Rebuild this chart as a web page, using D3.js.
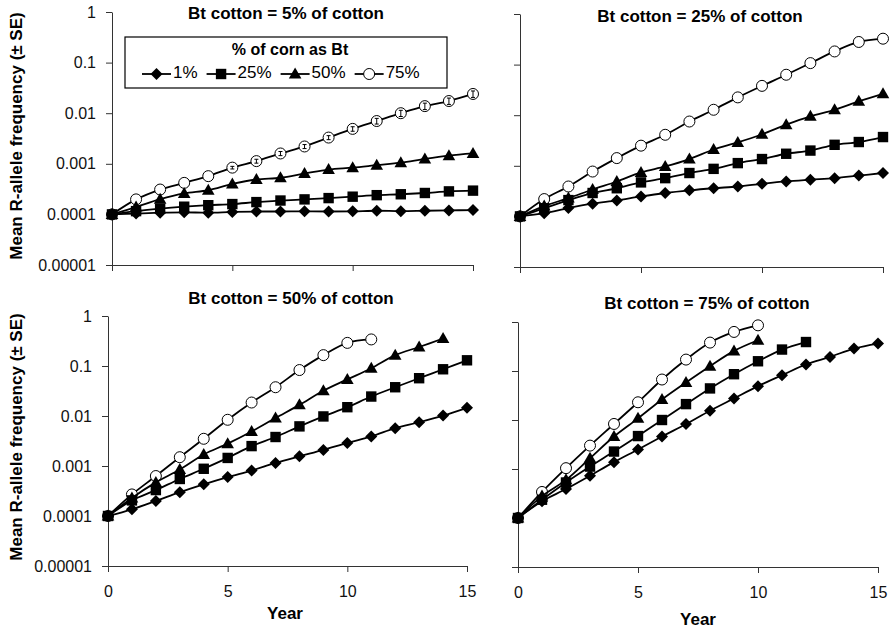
<!DOCTYPE html>
<html>
<head>
<meta charset="utf-8">
<script src="https://cdn.jsdelivr.net/npm/d3@7"></script>
<style>
  body { margin: 0; background: #fff; }
  text { font-family: "Liberation Sans", Arial, sans-serif; }
</style>
</head>
<body>
<svg></svg>
<script>
// years on the x axis
const years = [0, 1, 2, 3, 4, 5, 6, 7, 8, 9, 10, 11, 12, 13, 14, 15];
const xTickValues = [0, 5, 10, 15];
const yTickValues = [1, 0.1, 0.01, 0.001, 0.0001, 0.00001];
const yTickLabels = ["1", "0.1", "0.01", "0.001", "0.0001", "0.00001"];
const cornLevels = ["1%", "25%", "50%", "75%"];
const panelTitles = [
  "Bt cotton = 5% of cotton",
  "Bt cotton = 25% of cotton",
  "Bt cotton = 50% of cotton",
  "Bt cotton = 75% of cotton"
];

// Bt cotton = 5%
const c5_corn1  = [1.00e-4, 1.04e-4, 1.08e-4, 1.10e-4, 1.08e-4, 1.12e-4, 1.14e-4, 1.14e-4, 1.15e-4, 1.14e-4, 1.15e-4, 1.18e-4, 1.16e-4, 1.18e-4, 1.20e-4, 1.22e-4];
const c5_corn25 = [1.00e-4, 1.16e-4, 1.30e-4, 1.42e-4, 1.52e-4, 1.60e-4, 1.75e-4, 1.88e-4, 1.98e-4, 2.10e-4, 2.24e-4, 2.40e-4, 2.50e-4, 2.65e-4, 2.85e-4, 2.95e-4];
const c5_corn50 = [1.0e-4, 1.4e-4, 2.0e-4, 2.6e-4, 3.0e-4, 4.0e-4, 4.9e-4, 5.3e-4, 6.4e-4, 7.7e-4, 8.4e-4, 9.4e-4, 1.05e-3, 1.25e-3, 1.45e-3, 1.6e-3];
const c5_corn75 = [1.0e-4, 1.98e-4, 3.1e-4, 4.2e-4, 5.7e-4, 8.4e-4, 1.13e-3, 1.6e-3, 2.2e-3, 3.3e-3, 4.9e-3, 7.0e-3, 1.0e-2, 1.38e-2, 1.74e-2, 2.4e-2];
const c5_corn75_se = [0, 0, 0, 0, 0, 0.00005, 0.0001, 0.00015, 0.0002, 0.0003, 0.0005, 0.0009, 0.0014, 0.002, 0.0025, 0.0035];

// Bt cotton = 25%
const c25_corn1  = [1e-4, 1.16e-4, 1.46e-4, 1.78e-4, 2.07e-4, 2.48e-4, 2.9e-4, 3.27e-4, 3.6e-4, 3.9e-4, 4.4e-4, 4.9e-4, 5.3e-4, 5.7e-4, 6.4e-4, 7.2e-4];
const c25_corn25 = [1e-4, 1.45e-4, 2.1e-4, 2.9e-4, 3.6e-4, 4.7e-4, 5.7e-4, 7.2e-4, 8.7e-4, 1.13e-3, 1.36e-3, 1.73e-3, 2.0e-3, 2.6e-3, 2.95e-3, 3.7e-3];
const c25_corn50 = [1e-4, 1.6e-4, 2.3e-4, 3.4e-4, 4.9e-4, 7.4e-4, 9.7e-4, 1.36e-3, 2.1e-3, 2.9e-3, 4.2e-3, 6.5e-3, 9.5e-3, 1.28e-2, 1.88e-2, 2.65e-2];
const c25_corn75 = [1e-4, 2.2e-4, 3.9e-4, 7.7e-4, 1.42e-3, 2.5e-3, 4.1e-3, 7.5e-3, 1.28e-2, 2.25e-2, 3.8e-2, 6.3e-2, 0.107, 0.182, 0.28, 0.325];

// Bt cotton = 50%
const c50_corn1  = [1e-4, 1.36e-4, 2.0e-4, 3.0e-4, 4.3e-4, 6.0e-4, 8.1e-4, 1.15e-3, 1.56e-3, 2.1e-3, 2.9e-3, 3.9e-3, 5.7e-3, 7.5e-3, 1.02e-2, 1.46e-2];
const c50_corn25 = [1e-4, 2.05e-4, 3.3e-4, 5.5e-4, 8.8e-4, 1.45e-3, 2.5e-3, 3.8e-3, 6.2e-3, 9.8e-3, 1.5e-2, 2.45e-2, 3.76e-2, 5.7e-2, 8.6e-2, 0.13];
const c50_corn50 = [1e-4, 2.3e-4, 4.7e-4, 8.5e-4, 1.7e-3, 2.8e-3, 4.9e-3, 9.1e-3, 1.67e-2, 3.2e-2, 5.4e-2, 9.0e-2, 0.165, 0.24, 0.355];
const c50_corn75 = [1e-4, 2.7e-4, 6.3e-4, 1.5e-3, 3.5e-3, 8.4e-3, 1.86e-2, 3.76e-2, 8.3e-2, 0.165, 0.29, 0.34];

// Bt cotton = 75%
const c75_corn1  = [1e-4, 2.2e-4, 3.9e-4, 7.3e-4, 1.38e-3, 2.5e-3, 4.6e-3, 8.3e-3, 1.55e-2, 2.76e-2, 4.9e-2, 8.2e-2, 0.136, 0.194, 0.287, 0.363];
const c75_corn25 = [1e-4, 2.36e-4, 5.3e-4, 1.12e-3, 2.27e-3, 4.7e-3, 1.0e-2, 2.11e-2, 4.41e-2, 8.6e-2, 0.158, 0.274, 0.39];
const c75_corn50 = [1e-4, 2.8e-4, 6.0e-4, 1.66e-3, 4.6e-3, 1.08e-2, 2.63e-2, 5.83e-2, 0.125, 0.257, 0.424];
const c75_corn75 = [1e-4, 3.4e-4, 1.04e-3, 3.0e-3, 8.3e-3, 2.3e-2, 6.7e-2, 0.171, 0.38, 0.627, 0.855];

const svg = d3.select("svg").attr("width", 891).attr("height", 631);
svg.append("rect").attr("width", 891).attr("height", 631).attr("fill", "#fff");

const boldSize = 17;
const tickSize = 16;

// panel layout
const panels = [
  { title: panelTitles[0], series: [c5_corn1, c5_corn25, c5_corn50, c5_corn75], se: [null, null, null, c5_corn75_se],
    left: 112, right: 473, top: 12, bottom: 265, yLabels: true, xLabels: false, titleX: 286, titleY: 15 },
  { title: panelTitles[1], series: [c25_corn1, c25_corn25, c25_corn50, c25_corn75], se: [],
    left: 520, right: 883, top: 14, bottom: 267, yLabels: false, xLabels: false, titleX: 700, titleY: 18 },
  { title: panelTitles[2], series: [c50_corn1, c50_corn25, c50_corn50, c50_corn75], se: [],
    left: 108, right: 467, top: 316, bottom: 566, yLabels: true, xLabels: true, titleX: 291, titleY: 300 },
  { title: panelTitles[3], series: [c75_corn1, c75_corn25, c75_corn50, c75_corn75], se: [],
    left: 518, right: 878, top: 322, bottom: 567, yLabels: false, xLabels: true, titleX: 707, titleY: 305 }
];

// marker drawing: diamond, square, triangle, open circle
function drawMarker(sel, i) {
  if (i === 0) {
    sel.append("path").attr("d", "M0,-6L6,0L0,6L-6,0Z").attr("fill", "#000");
  } else if (i === 1) {
    sel.append("rect").attr("x", -5.2).attr("y", -5.2).attr("width", 10.4).attr("height", 10.4).attr("fill", "#000");
  } else if (i === 2) {
    sel.append("path").attr("d", "M0,-6.5L6.3,4.5L-6.3,4.5Z").attr("fill", "#000");
  } else {
    sel.append("circle").attr("r", 5.5).attr("fill", "#fff").attr("stroke", "#000").attr("stroke-width", 1);
  }
}

const line = d3.line().curve(d3.curveCatmullRom);

panels.forEach(p => {
  const x = d3.scaleLinear().domain([0, 15]).range([p.left, p.right]);
  const y = d3.scaleLog().domain([1e-5, 1]).range([p.bottom, p.top]);
  const g = svg.append("g");

  // y axis
  const ya = g.append("g")
    .attr("transform", `translate(${p.left},0)`)
    .call(d3.axisLeft(y).tickValues(yTickValues)
      .tickFormat((d, i) => yTickLabels[i]).tickSize(6).tickSizeOuter(0).tickPadding(10));
  // x axis
  const xa = g.append("g")
    .attr("transform", `translate(0,${p.bottom})`)
    .call(d3.axisBottom(x).tickValues(xTickValues)
      .tickFormat(d3.format("d")).tickSize(6).tickSizeOuter(0).tickPadding(14));

  [ya, xa].forEach(a => {
    a.select(".domain").attr("stroke", "#333");
    a.selectAll(".tick line").attr("stroke", "#333");
    a.selectAll("text").attr("font-size", tickSize).attr("fill", "#111")
      .style("font-family", "'Liberation Sans', Arial, sans-serif");
  });
  if (!p.yLabels) ya.selectAll("text").remove();
  if (!p.xLabels) xa.selectAll("text").remove();

  // title
  g.append("text").attr("x", p.titleX).attr("y", p.titleY)
    .attr("text-anchor", "middle").attr("dominant-baseline", "middle")
    .attr("font-size", boldSize).attr("font-weight", "bold").text(p.title);

  // series, drawn from 75% down to 1%
  for (let i = 3; i >= 0; i--) {
    const vals = p.series[i];
    const pts = vals.map((v, k) => [x(years[k]), y(v)]);
    g.append("path").attr("d", line(pts))
      .attr("fill", "none").attr("stroke", "#000").attr("stroke-width", 1.8);
    pts.forEach(pt => {
      drawMarker(g.append("g").attr("transform", `translate(${pt[0]},${pt[1]})`), i);
    });
    const se = p.se[i];
    if (se) {
      vals.forEach((v, k) => {
        if (!se[k]) return;
        const xx = x(years[k]);
        const y1 = y(v + se[k]), y2 = y(v - se[k]);
        g.append("line").attr("x1", xx).attr("x2", xx).attr("y1", y1).attr("y2", y2)
          .attr("stroke", "#000").attr("stroke-width", 1);
        [y1, y2].forEach(yy => g.append("line").attr("x1", xx - 2).attr("x2", xx + 2)
          .attr("y1", yy).attr("y2", yy).attr("stroke", "#000").attr("stroke-width", 1));
      });
    }
  }
});

// y axis titles
[[18, 136], [18, 437]].forEach(([tx, ty]) => {
  svg.append("text").attr("transform", `translate(${tx},${ty}) rotate(-90)`)
    .attr("text-anchor", "middle").attr("dominant-baseline", "middle")
    .attr("font-size", boldSize).attr("font-weight", "bold")
    .text("Mean R-allele frequency (\u00b1 SE)");
});
// x axis titles
[[285, 615], [698, 621]].forEach(([tx, ty]) => {
  svg.append("text").attr("x", tx).attr("y", ty)
    .attr("text-anchor", "middle").attr("dominant-baseline", "middle")
    .attr("font-size", boldSize).attr("font-weight", "bold").text("Year");
});

// legend
const lg = svg.append("g");
lg.append("rect").attr("x", 125).attr("y", 37).attr("width", 322).attr("height", 51)
  .attr("fill", "#fff").attr("stroke", "#000").attr("stroke-width", 1.2);
lg.append("text").attr("x", 290).attr("y", 51)
  .attr("text-anchor", "middle").attr("dominant-baseline", "middle")
  .attr("font-size", 16).attr("font-weight", "bold").text("% of corn as Bt");
let lx = 142;
cornLevels.forEach((lab, i) => {
  lg.append("line").attr("x1", lx).attr("x2", lx + 29).attr("y1", 74).attr("y2", 74)
    .attr("stroke", "#000").attr("stroke-width", 1.8);
  drawMarker(lg.append("g").attr("transform", `translate(${lx + 14.5},74)`), i);
  const t = lg.append("text").attr("x", lx + 31).attr("y", 74)
    .attr("dominant-baseline", "middle").attr("font-size", 17).text(lab);
  lx = lx + 31 + t.node().getComputedTextLength() + 9;
});
</script>
</body>
</html>
